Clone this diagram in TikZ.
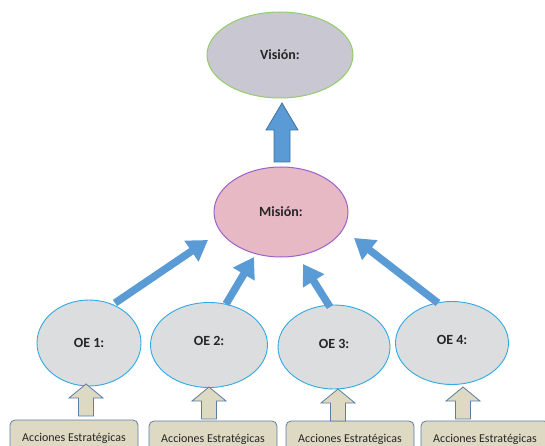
\documentclass[tikz,border=0pt]{standalone}
\usepackage{fontspec}
\setmainfont{Carlito}
\usetikzlibrary{arrows.meta,shapes.geometric,calc}
\definecolor{visfill}{HTML}{C9C7D1}
\definecolor{visline}{HTML}{93CC6A}
\definecolor{misfill}{HTML}{E6B9C4}
\definecolor{misline}{HTML}{A060CC}
\definecolor{oefill}{HTML}{DCDDDF}
\definecolor{oeline}{HTML}{2DAAE1}
\definecolor{bluearr}{HTML}{5B9BD5}
\definecolor{bluearrline}{HTML}{41719C}
\definecolor{tan}{HTML}{DDD9C3}
\definecolor{tanline}{HTML}{5B7EA3}
\definecolor{txt}{HTML}{262626}
\begin{document}
\begin{tikzpicture}[x=1pt,y=-1pt,
  bigell/.style={ellipse, line width=1pt, inner sep=0pt, outer sep=0pt,
     font=\bfseries\fontsize{14}{16}\selectfont, text=txt},
  oe/.style={ellipse, draw=oeline, fill=oefill, line width=0.9pt, inner sep=0pt, outer sep=0pt,
     font=\bfseries\fontsize{14}{16}\selectfont, text=txt},
  thinarrow/.style={draw=bluearr, line width=7.5pt,
     -{Triangle[width=24pt,length=20pt]}, shorten >=0pt},
  acc/.style={rectangle, rounded corners=5pt, draw=tanline, fill=tan, line width=0.8pt,
     minimum width=128pt, minimum height=36pt, inner sep=0pt,
     font=\fontsize{12}{14}\selectfont, text=txt},
  tanarrow/.style={draw=tanline, fill=tan, line width=0.8pt, line join=miter},
]
\useasboundingbox (0,0) rectangle (545,446);
\clip (0,0) rectangle (545,446);

% Vision and Mision
\node[bigell, draw=visline, fill=visfill, minimum width=146pt, minimum height=86pt] (vis) at (280,55) {Visión:};
\node[bigell, draw=misline, fill=misfill, minimum width=134pt, minimum height=90pt] (mis) at (281,212) {Misión:};

% big block arrow between Mision and Vision
\coordinate (bigtip) at (282,103);
\coordinate (bigbase) at (282,162);
\draw[draw=bluearrline, fill=bluearr, line width=0.8pt, line join=miter]
  (bigtip) -- ++(16,27) -- ++(-8,0) -- (bigbase -| 290,0) -- (bigbase -| 274,0) -- (274,130) -- (266,130) -- cycle;

% OE ellipses
\node[oe, minimum width=104pt, minimum height=86pt] (oe1) at (89,343) {OE 1:};
\node[oe, minimum width=117pt, minimum height=85pt] (oe2) at (209,345) {\raisebox{9pt}{OE 2:}};
\node[oe, minimum width=112pt, minimum height=84pt] (oe3) at (334,347) {\raisebox{7pt}{OE 3:}};
\node[oe, minimum width=113pt, minimum height=83pt] (oe4) at (452,343) {\raisebox{7pt}{OE 4:}};

% arrows from OE to Mision
\coordinate (a1s) at (115,303);
\coordinate (a1e) at (208,240);
\coordinate (a2s) at (226,304);
\coordinate (a2e) at (254,257);
\coordinate (a3s) at (330,307);
\coordinate (a3e) at (303,264);
\coordinate (a4s) at (438,303);
\coordinate (a4e) at (354,238);
\draw[thinarrow] (a1s) -- (a1e);
\draw[thinarrow] (a2s) -- (a2e);
\draw[thinarrow] (a3s) -- (a3e);
\draw[thinarrow] (a4s) -- (a4e);

% Acciones boxes
\node[acc] (ac1) at (74,438) {Acciones Estratégicas};
\node[acc] (ac2) at (213,439) {Acciones Estratégicas};
\node[acc] (ac3) at (350,439) {Acciones Estratégicas};
\node[acc] (ac4) at (485,439) {Acciones Estratégicas};

% small up block arrows
\foreach \n/\tx/\ty in {1/86/384, 2/209/387, 3/338/389, 4/463/387}{
  \coordinate (t\n) at (\tx,\ty);
  \draw[tanarrow] (t\n) -- ++(17,14) -- ++(-9.5,0) -- ++(0,18) -- ++(-15,0) -- ++(0,-18) -- ++(-9.5,0) -- cycle;
}
\end{tikzpicture}
\end{document}
